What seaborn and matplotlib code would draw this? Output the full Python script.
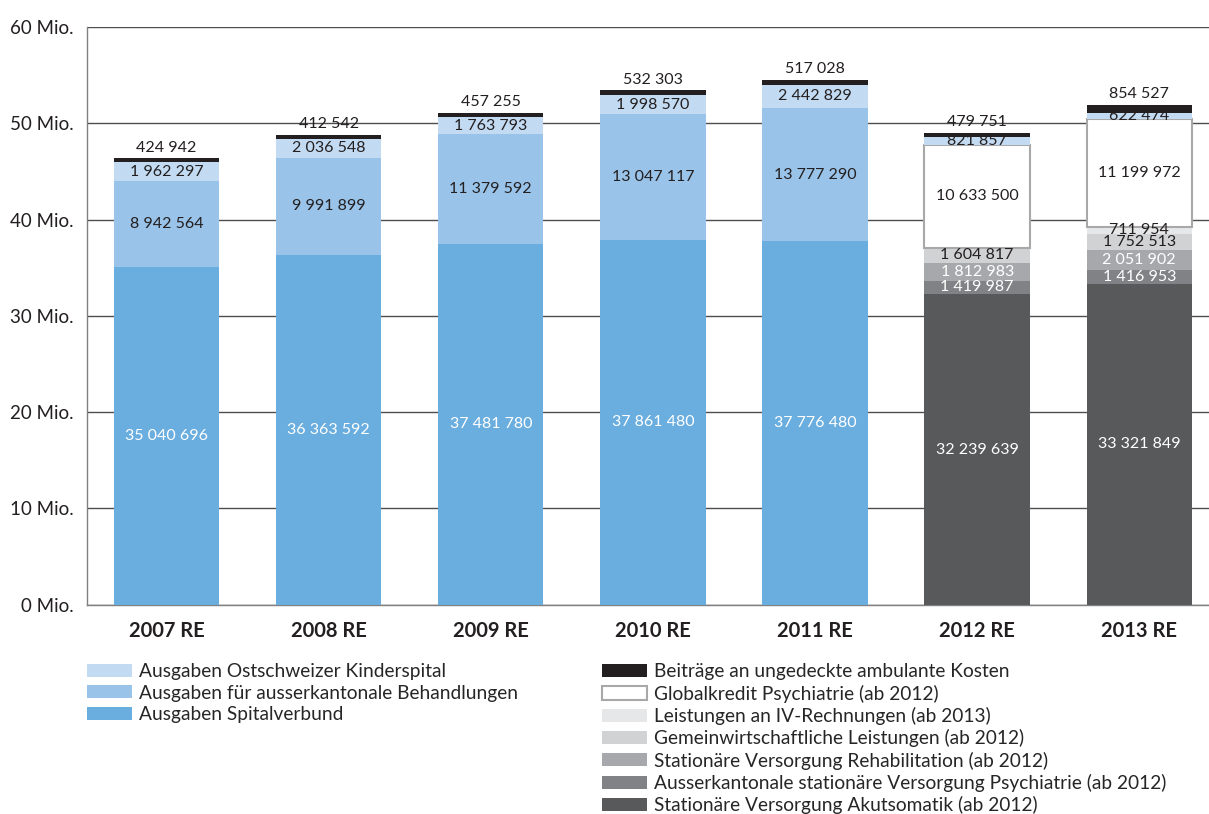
import pandas as pd
import matplotlib.pyplot as plt
import seaborn as sns
from matplotlib.patches import Patch

## Data (CHF)
years = ['2007 RE', '2008 RE', '2009 RE', '2010 RE', '2011 RE', '2012 RE', '2013 RE']
old_years = years[:5]
new_years = years[5:]

spitalverbund = [35040696, 36363592, 37481780, 37861480, 37776480]
ausserkantonal = [8942564, 9991899, 11379592, 13047117, 13777290]
akutsomatik = [32239639, 33321849]
psych_ausserkant = [1419987, 1416953]
rehabilitation = [1812983, 2051902]
gemeinwirtschaft = [1604817, 1752513]
iv_rechnungen = [711954]
globalkredit = [10633500, 11199972]
kinderspital = [1962297, 2036548, 1763793, 1998570, 2442829, 821857, 622474]
ambulant = [424942, 412542, 457255, 532303, 517028, 479751, 854527]

## Segments bottom -> top: (label, years, values, color, text color)
segments = [
    ('Ausgaben Spitalverbund', old_years, spitalverbund, '#6aaddf', 'white'),
    ('Ausgaben für ausserkantonale Behandlungen', old_years, ausserkantonal, '#99c3e8', '#231f20'),
    ('Stationäre Versorgung Akutsomatik (ab 2012)', new_years, akutsomatik, '#58595b', 'white'),
    ('Ausserkantonale stationäre Versorgung Psychiatrie (ab 2012)', new_years, psych_ausserkant, '#818285', 'white'),
    ('Stationäre Versorgung Rehabilitation (ab 2012)', new_years, rehabilitation, '#a7a8ab', 'white'),
    ('Gemeinwirtschaftliche Leistungen (ab 2012)', new_years, gemeinwirtschaft, '#d1d2d3', '#231f20'),
    ('Leistungen an IV-Rechnungen (ab 2013)', ['2013 RE'], iv_rechnungen, '#e6e7e8', '#231f20'),
    ('Globalkredit Psychiatrie (ab 2012)', new_years, globalkredit, 'white', '#231f20'),
    ('Ausgaben Ostschweizer Kinderspital', years, kinderspital, '#c3dbf2', '#231f20'),
    ('Beiträge an ungedeckte ambulante Kosten', years, ambulant, '#231f20', '#231f20'),
]

sns.set_style('white')
plt.rcParams['font.family'] = ['Lato', 'DejaVu Sans']

fig = plt.figure(figsize=(12.09, 8.14), dpi=100)
ax = fig.add_axes([0.072, 0.257, 0.928, 0.71])

bottoms = {y: 0 for y in years}
for name, yrs, vals, color, tcolor in segments:
    df = pd.DataFrame({'Jahr': yrs, 'Wert': vals})
    bot = [bottoms[y] for y in yrs]
    edge = '#a8a8a8' if color == 'white' else 'none'
    lw = 1.5 if color == 'white' else 0
    sns.barplot(data=df, x='Jahr', y='Wert', order=years, bottom=bot, color=color,
                saturation=1, width=0.65, errorbar=None, edgecolor=edge, linewidth=lw,
                ax=ax, zorder=3)
    for y, v, b in zip(yrs, vals, bot):
        i = years.index(y)
        label = f'{v:,}'.replace(',', ' ')
        if name.startswith('Beiträge'):
            ax.annotate(label, (i, b + v), xytext=(0, 2.5), textcoords='offset points',
                        ha='center', va='bottom', fontsize=11.5, color=tcolor, zorder=5)
        else:
            ax.text(i, b + v / 2, label, ha='center', va='center', fontsize=11.5,
                    color=tcolor, zorder=5)
        bottoms[y] = b + v

## Axes styling
ax.set_ylim(0, 60e6)
ax.set_xlim(-0.49, 6.43)
ax.set_yticks([i * 10e6 for i in range(7)])
ax.set_yticklabels([f'{i * 10} Mio.' for i in range(7)], fontsize=13.5, color='#231f20')
ax.tick_params(axis='y', length=0, pad=10)
ax.tick_params(axis='x', length=0, pad=12)
for t in ax.get_xticklabels():
    t.set_fontweight('bold')
    t.set_fontsize(14.5)
    t.set_color('#231f20')
ax.set_xlabel('')
ax.set_ylabel('')
ax.yaxis.grid(True, color='#4d4d4d', linewidth=1)
ax.set_axisbelow(True)
for s in ['top', 'right']:
    ax.spines[s].set_visible(False)
for s in ['left', 'bottom']:
    ax.spines[s].set_color('#808080')
    ax.spines[s].set_linewidth(1)

## Legends
def handle(color):
    if color == 'white':
        return Patch(facecolor='white', edgecolor='#a8a8a8', linewidth=1.5)
    return Patch(facecolor=color, edgecolor='none')

left_items = [segments[8], segments[1], segments[0]]
right_items = [segments[9], segments[7], segments[6], segments[5], segments[4], segments[3], segments[2]]

leg_kw = dict(frameon=False, fontsize=13.8, handlelength=2.35, handleheight=0.68,
              labelspacing=0.22, handletextpad=0.35, borderaxespad=0, borderpad=0)
fig.legend([handle(s[3]) for s in left_items], [s[0] for s in left_items],
           loc='upper left', bbox_to_anchor=(0.072, 0.185), **leg_kw)
fig.legend([handle(s[3]) for s in right_items], [s[0] for s in right_items],
           loc='upper left', bbox_to_anchor=(0.498, 0.185), **leg_kw)

fig.savefig('out.png', dpi=100)
